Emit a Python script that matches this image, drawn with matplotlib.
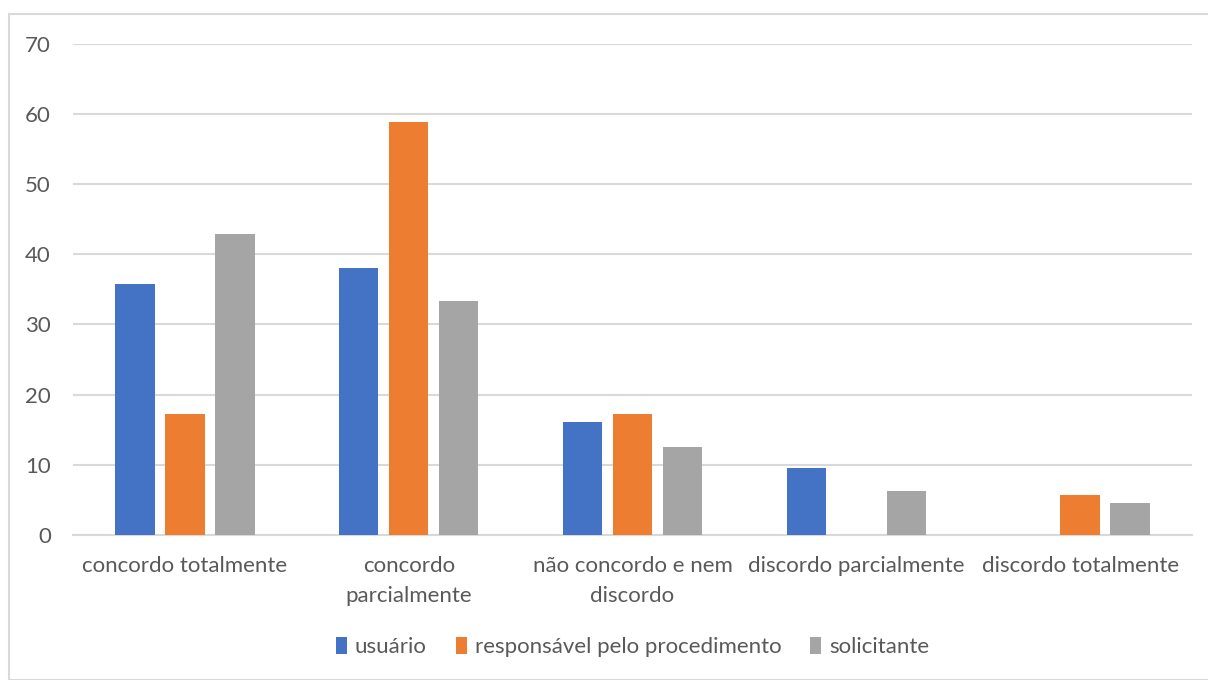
import matplotlib.pyplot as plt
import numpy as np
from matplotlib.patches import Rectangle

# categories / series
categories = ['concordo totalmente', 'concordo\nparcialmente', 'não concordo e nem\ndiscordo',
              'discordo parcialmente', 'discordo totalmente']
series = ['usuário', 'responsável pelo procedimento', 'solicitante']
usuario = [35.8, 38.0, 16.1, 9.5, 0]
responsavel = [17.3, 58.8, 17.3, 0, 5.7]
solicitante = [42.9, 33.3, 12.5, 6.2, 4.6]
colors = ['#4472C4', '#ED7D31', '#A5A5A5']

plt.rcParams['font.family'] = ['Lato', 'DejaVu Sans']

fig = plt.figure(figsize=(12.08, 6.8), dpi=100)
ax = fig.add_axes([73 / 1208, 1 - 535 / 680, (1192 - 73) / 1208, (535 - 43.5) / 680])

# outer chart frame
fig.patches.append(Rectangle((9 / 1208, 0), 1.0, 1 - 14 / 680, transform=fig.transFigure,
                             fill=False, edgecolor='#d9d9d9', linewidth=1.5))

x = np.arange(len(categories))
width = 0.176
offset = 0.223
for i, (vals, name) in enumerate(zip([usuario, responsavel, solicitante], series)):
    ax.bar(x + (i - 1) * offset, vals, width, color=colors[i], label=name, zorder=3)

ax.set_xlim(-0.5, 4.5)
ax.set_ylim(0, 70)
ax.set_yticks(range(0, 71, 10))
ax.yaxis.grid(True, color='#d9d9d9', linewidth=1.5, zorder=0)
for s in ['top', 'right', 'left']:
    ax.spines[s].set_visible(False)
ax.spines['bottom'].set_color('#d9d9d9')
ax.spines['bottom'].set_linewidth(1.5)
ax.tick_params(axis='both', length=0, colors='#595959', labelsize=16)
ax.tick_params(axis='y', pad=16)
ax.tick_params(axis='x', pad=15)
ax.set_xticks(x)
ax.set_xticklabels(categories, linespacing=1.65)

ax.legend(loc='center', bbox_to_anchor=(0.5, -0.228), ncol=3, frameon=False,
          fontsize=16, labelcolor='#595959', handlelength=0.5, handleheight=0.8,
          handletextpad=0.35, columnspacing=1.3)

fig.savefig('out.png', dpi=100)
